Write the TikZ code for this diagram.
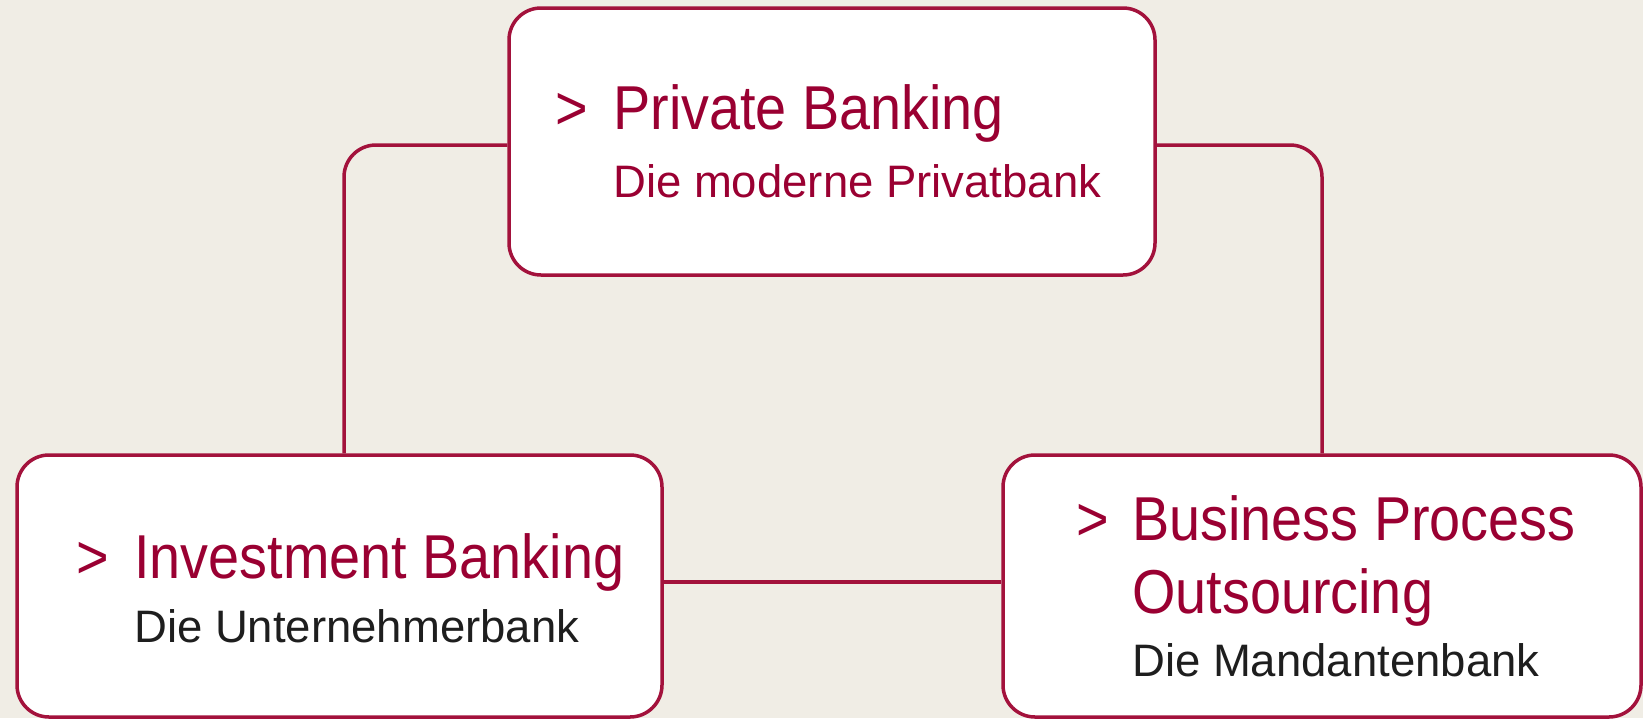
\documentclass[tikz,border=0pt]{standalone}
\usepackage{fontspec}
\setmainfont{Liberation Sans}
\newfontfamily\titlefont[FakeStretch=0.9]{Liberation Sans}
\definecolor{bg}{HTML}{F0EDE5}
\definecolor{crim}{HTML}{A3123C}
\definecolor{crimtext}{HTML}{9A0032}
\definecolor{subblack}{HTML}{1E1E1E}
\begin{document}
\begin{tikzpicture}[x=1pt,y=-1pt,
  box/.style={draw=crim, line width=3.5pt, fill=white, rounded corners=32pt, inner sep=0pt},
  conn/.style={draw=crim, line width=3.5pt, rounded corners=32pt},
  ttl/.style={anchor=base west, inner sep=0pt, text=crimtext, font=\titlefont\fontsize{62}{70}\selectfont},
  sub/.style={anchor=base west, inner sep=0pt, font=\fontsize{45.5}{52}\selectfont}]
\fill[bg] (0,0) rectangle (1643,718);
\useasboundingbox (0,0) rectangle (1643,718);
\node[box, minimum width=646pt, minimum height=267pt] (top) at (832,141.5) {};
\node[box, minimum width=645pt, minimum height=262pt] (left) at (339.5,586) {};
\node[box, minimum width=638pt, minimum height=262pt] (right) at (1322,586) {};
\coordinate (lc) at (344,145);
\coordinate (rc) at (1322,145);
\coordinate (hc) at (800,582);
\draw[conn] (top.west |- lc) -| (left.north -| lc);
\draw[conn] (top.east |- rc) -| (right.north -| rc);
\draw[conn] (left.east |- hc) -- (right.west |- hc);
% top texts
\node[ttl] (tgt) at (555,129) {>};
\node[ttl] (tt) at (613,129) {Private Banking};
\node[sub, text=crimtext] (ts) at (613,197) {Die moderne Privatbank};
% left texts
\node[ttl] (lgt) at (76,578) {>};
\node[ttl] (lt) at (134,578) {Investment Banking};
\node[sub, text=subblack] (ls) at (134,642) {Die Unternehmerbank};
% right texts
\node[ttl] (rgt) at (1076,540) {>};
\node[ttl] (rt1) at (1132,540) {Business Process};
\node[ttl] (rt2) at (1132,613) {Outsourcing};
\node[sub, text=subblack] (rs) at (1132,676) {Die Mandantenbank};
\end{tikzpicture}
\end{document}
